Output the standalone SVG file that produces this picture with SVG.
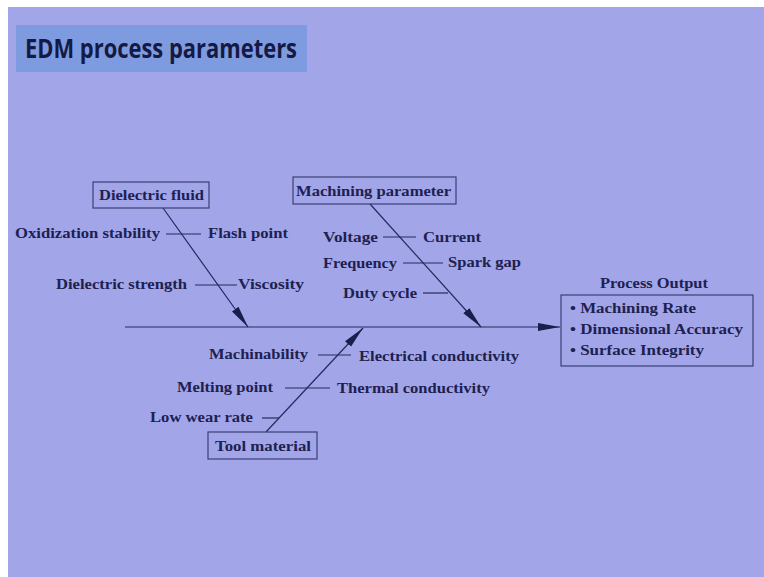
<svg xmlns="http://www.w3.org/2000/svg" width="764" height="577" viewBox="0 0 764 577">
  <style>
    .lbl { font-family: "Liberation Serif", "Times New Roman", serif; font-weight: bold; font-size: 15px; fill: #1d2150; }
    .ttl { font-family: "Open Sans", "Liberation Sans", sans-serif; font-weight: bold; font-size: 26px; fill: #141a44; }
    .box { fill: none; stroke: #3a3f75; stroke-width: 1.2; }
    .ln { stroke: #262a5c; stroke-width: 1.2; fill: none; }
  </style>
  <defs>
    <marker id="arrow" markerUnits="userSpaceOnUse" markerWidth="24" markerHeight="10" refX="22" refY="4.5" orient="auto">
      <path d="M0,0.5 L22,4.5 L0,8.5 Z" fill="#1a1e4c"/>
    </marker>
  </defs>

  <!-- slide background -->
  <rect x="0" y="0" width="764" height="577" fill="#ffffff"/>
  <rect x="8" y="7" width="756" height="570" fill="#a2a5e8"/>

  <!-- title -->
  <g id="title">
    <rect x="16" y="25" width="291" height="47" fill="#7f9be0"/>
    <text class="ttl" x="25" y="58" textLength="272" lengthAdjust="spacingAndGlyphs">EDM process parameters</text>
  </g>

  <!-- connectors: spine and category bones -->
  <g id="connectors">
    <line class="ln" x1="125" y1="327" x2="560" y2="327" marker-end="url(#arrow)"/>
    <line class="ln" x1="163" y1="208" x2="248" y2="327" marker-end="url(#arrow)"/>
    <line class="ln" x1="370" y1="204" x2="481" y2="327" marker-end="url(#arrow)"/>
    <line class="ln" x1="266" y1="432" x2="363" y2="328" marker-end="url(#arrow)"/>
    <!-- cause ticks -->
    <line class="ln" x1="166" y1="234" x2="201" y2="234"/>
    <line class="ln" x1="195" y1="285" x2="237" y2="285"/>
    <line class="ln" x1="383" y1="237" x2="416" y2="237"/>
    <line class="ln" x1="403" y1="263" x2="443" y2="263"/>
    <line class="ln" x1="423" y1="293" x2="448" y2="293"/>
    <line class="ln" x1="318" y1="355" x2="351" y2="355"/>
    <line class="ln" x1="285" y1="388" x2="330" y2="388"/>
    <line class="ln" x1="262" y1="418" x2="279" y2="418"/>
  </g>

  <!-- category nodes -->
  <g id="dielectric-fluid">
    <rect class="box" x="93" y="182" width="116" height="26"/>
    <text class="lbl" x="99" y="200" textLength="105" lengthAdjust="spacingAndGlyphs">Dielectric fluid</text>
    <text class="lbl" x="15" y="238" textLength="145" lengthAdjust="spacingAndGlyphs">Oxidization stability</text>
    <text class="lbl" x="208" y="238" textLength="80" lengthAdjust="spacingAndGlyphs">Flash point</text>
    <text class="lbl" x="56" y="289" textLength="131" lengthAdjust="spacingAndGlyphs">Dielectric strength</text>
    <text class="lbl" x="238" y="289" textLength="66" lengthAdjust="spacingAndGlyphs">Viscosity</text>
  </g>

  <g id="machining-parameter">
    <rect class="box" x="293" y="177" width="163" height="27"/>
    <text class="lbl" x="296" y="196" textLength="155" lengthAdjust="spacingAndGlyphs">Machining parameter</text>
    <text class="lbl" x="323" y="242" textLength="55" lengthAdjust="spacingAndGlyphs">Voltage</text>
    <text class="lbl" x="423" y="242" textLength="58" lengthAdjust="spacingAndGlyphs">Current</text>
    <text class="lbl" x="323" y="268" textLength="74" lengthAdjust="spacingAndGlyphs">Frequency</text>
    <text class="lbl" x="448" y="267" textLength="73" lengthAdjust="spacingAndGlyphs">Spark gap</text>
    <text class="lbl" x="343" y="298" textLength="74" lengthAdjust="spacingAndGlyphs">Duty cycle</text>
  </g>

  <g id="tool-material">
    <rect class="box" x="208" y="432" width="109" height="27"/>
    <text class="lbl" x="215" y="451" textLength="96" lengthAdjust="spacingAndGlyphs">Tool material</text>
    <text class="lbl" x="209" y="359" textLength="99" lengthAdjust="spacingAndGlyphs">Machinability</text>
    <text class="lbl" x="359" y="361" textLength="160" lengthAdjust="spacingAndGlyphs">Electrical conductivity</text>
    <text class="lbl" x="177" y="392" textLength="96" lengthAdjust="spacingAndGlyphs">Melting point</text>
    <text class="lbl" x="337" y="393" textLength="153" lengthAdjust="spacingAndGlyphs">Thermal conductivity</text>
    <text class="lbl" x="150" y="422" textLength="103" lengthAdjust="spacingAndGlyphs">Low wear rate</text>
  </g>

  <!-- effect node -->
  <g id="process-output">
    <text class="lbl" x="600" y="288" textLength="108" lengthAdjust="spacingAndGlyphs">Process Output</text>
    <rect class="box" x="561" y="295" width="192" height="71"/>
    <text class="lbl" x="570" y="313" textLength="126" lengthAdjust="spacingAndGlyphs">• Machining Rate</text>
    <text class="lbl" x="570" y="334" textLength="173" lengthAdjust="spacingAndGlyphs">• Dimensional Accuracy</text>
    <text class="lbl" x="570" y="355" textLength="134" lengthAdjust="spacingAndGlyphs">• Surface Integrity</text>
  </g>
</svg>
